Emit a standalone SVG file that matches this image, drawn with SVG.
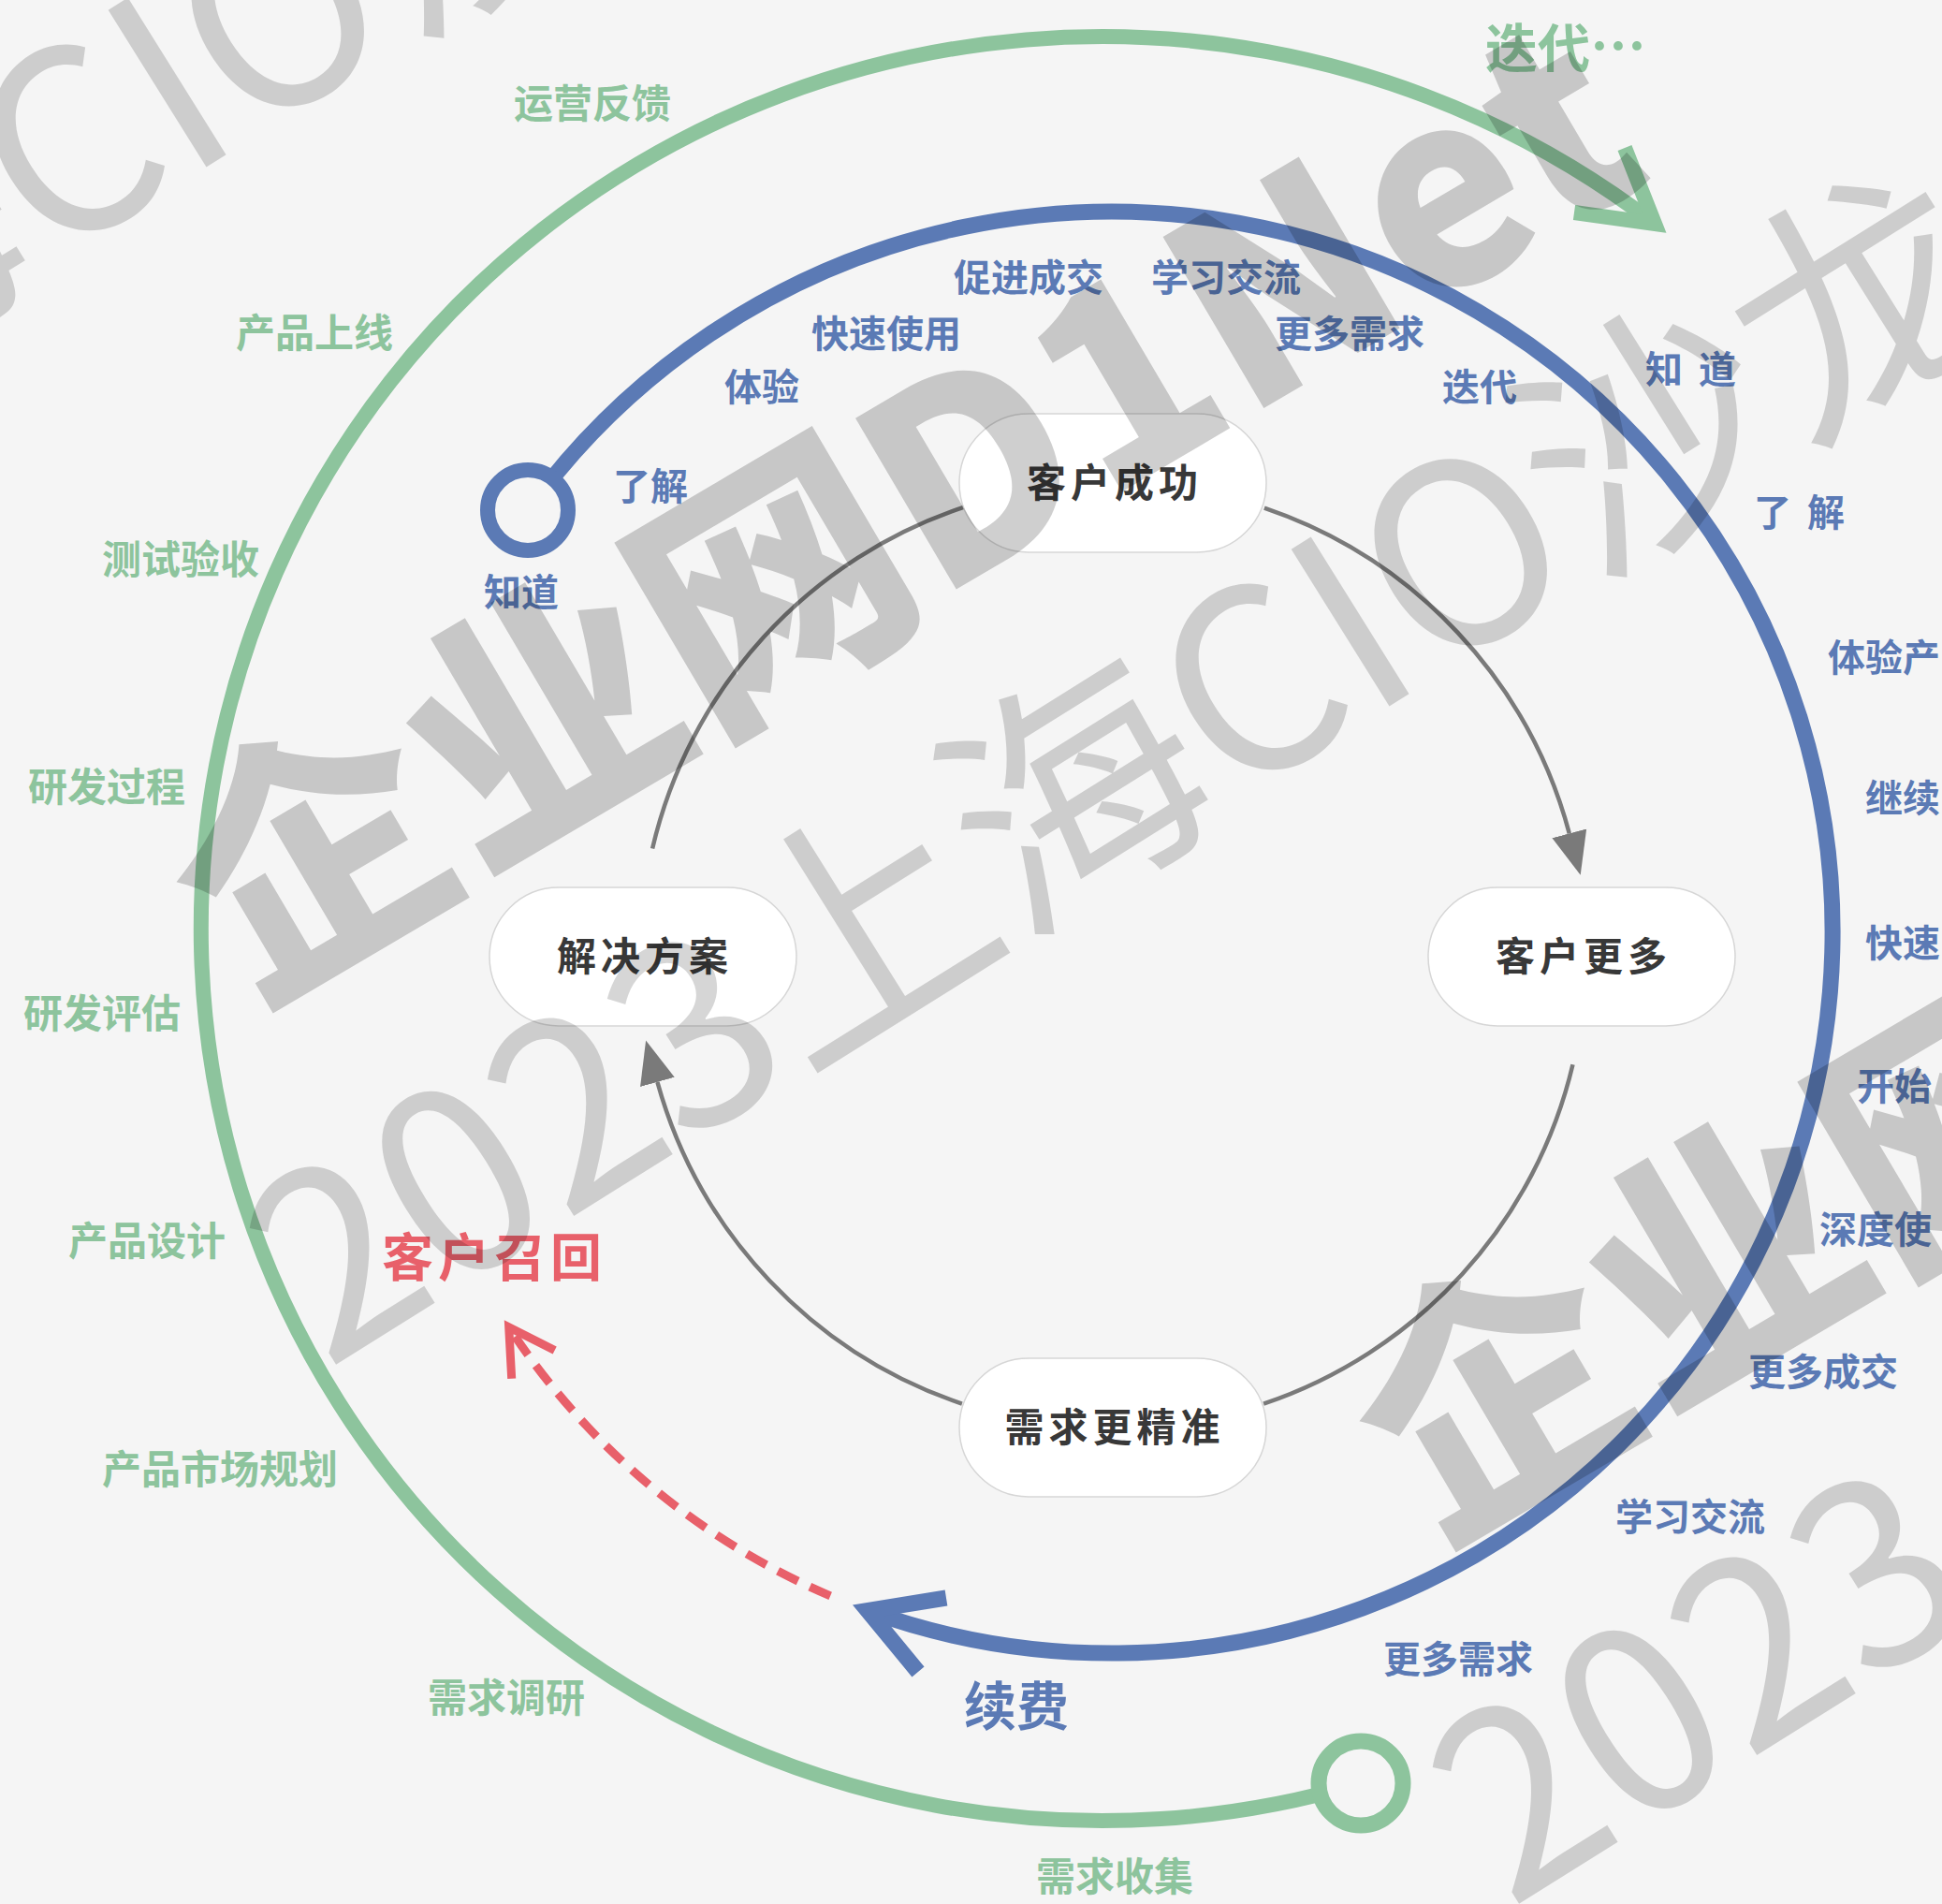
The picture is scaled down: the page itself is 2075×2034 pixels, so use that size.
<svg xmlns="http://www.w3.org/2000/svg" width="2075" height="2034" viewBox="0 0 2075 2034">
<defs>
<style>
text{font-family:"Noto Sans CJK SC","Noto Sans",sans-serif;font-weight:700}
.g{fill:#8dc49d;font-size:42px}
.b{fill:#5b7ab5;font-size:40px}
.n{fill:#383838;font-size:42px;letter-spacing:5px}
.pill{fill:#fff;stroke:#d6d6d6;stroke-width:1.5}
.arc{fill:none;stroke:#7a7a7a;stroke-width:4.5}
</style>
<marker id="ah" markerUnits="userSpaceOnUse" markerWidth="50" markerHeight="44" refX="0" refY="22" orient="auto" viewBox="0 0 50 44">
<path d="M0,3 L46,22 L0,41 z" fill="#7a7a7a"/>
</marker>
</defs>
<rect width="2075" height="2034" fill="#f5f5f5"/>

<g id="connectors" fill="none" stroke-linecap="butt" stroke-linejoin="miter">
<path d="M 1454 1905 A 963 953 0 1 1 1768 239" stroke="#8dc49d" stroke-width="16"/>
<path d="M 1736 158 L 1768 239 L 1682 227" stroke="#8dc49d" stroke-width="16"/>
<path d="M 564 545 A 770 770 0 1 1 927 1720.5" stroke="#5b7ab5" stroke-width="17"/>
<path d="M 981 1786 L 927 1720.5 L 1011 1707" stroke="#5b7ab5" stroke-width="17"/>
<path d="M 887.2 1704.8 A 770 770 0 0 1 543.7 1417.7" stroke="#e8606a" stroke-width="9" stroke-dasharray="24 14"/>
<path d="M 546.7 1472.7 L 543.7 1417.7 L 592.7 1442.5" stroke="#e8606a" stroke-width="9"/>
<path class="arc" d="M 1350.9 542.7 A 505 505 0 0 1 1676.8 890.3" marker-end="url(#ah)"/>
<path class="arc" d="M 1680.5 1137.2 A 505 505 0 0 1 1350.1 1499.6"/>
<path class="arc" d="M 1027.9 1499.6 A 505 505 0 0 1 702.4 1155.9" marker-end="url(#ah)"/>
<path class="arc" d="M 697.1 906.5 A 505 505 0 0 1 1030.4 541.6" stroke="#666"/>
<circle cx="564" cy="545" r="43" fill="#f5f5f5" stroke="#5b7ab5" stroke-width="16"/>
<circle cx="1454" cy="1905" r="45" fill="#f5f5f5" stroke="#8dc49d" stroke-width="17"/>
</g>

<g id="node-success"><rect class="pill" x="1025" y="442" width="328" height="148" rx="74"/><text class="n" x="1191" y="531" text-anchor="middle">客户成功</text></g>
<g id="node-more"><rect class="pill" x="1526" y="948" width="328" height="148" rx="74"/><text class="n" x="1692" y="1037" text-anchor="middle">客户更多</text></g>
<g id="node-solution"><rect class="pill" x="523" y="948" width="328" height="148" rx="74"/><text class="n" x="689" y="1037" text-anchor="middle">解决方案</text></g>
<g id="node-demand"><rect class="pill" x="1025" y="1451" width="328" height="148" rx="74"/><text class="n" x="1191" y="1540" text-anchor="middle">需求更精准</text></g>

<g id="labels-green" class="g" text-anchor="middle">
<text x="633" y="126">运营反馈</text>
<text x="336" y="371">产品上线</text>
<text x="193" y="613">测试验收</text>
<text x="114" y="856">研发过程</text>
<text x="109" y="1098">研发评估</text>
<text x="157" y="1341">产品设计</text>
<text x="235" y="1585">产品市场规划</text>
<text x="541" y="1829">需求调研</text>
<text x="1191" y="2020">需求收集</text>
<text x="1587" y="72" text-anchor="start" style="font-size:56px">迭代<tspan style="font-size:60px">…</tspan></text>
</g>

<g id="labels-blue" class="b" text-anchor="middle">
<text x="1099" y="311">促进成交</text>
<text x="1310" y="311">学习交流</text>
<text x="947" y="371">快速使用</text>
<text x="1442" y="371">更多需求</text>
<text x="814" y="428">体验</text>
<text x="1581" y="428">迭代</text>
<text x="695" y="534">了解</text>
<text x="557" y="647">知道</text>
<text x="1758" y="409" text-anchor="start" textLength="97" lengthAdjust="spacing">知 道</text>
<text x="1874" y="562" text-anchor="start" textLength="97" lengthAdjust="spacing">了 解</text>
<text x="1953" y="717" text-anchor="start">体验产</text>
<text x="1993" y="867" text-anchor="start">继续</text>
<text x="1993" y="1022" text-anchor="start">快速</text>
<text x="1984" y="1175" text-anchor="start">开始</text>
<text x="1944" y="1328" text-anchor="start">深度使</text>
<text x="1948" y="1480">更多成交</text>
<text x="1806" y="1635">学习交流</text>
<text x="1558" y="1787">更多需求</text>
<text x="1086" y="1843" style="font-size:56px">续费</text>
</g>

<g id="label-recall"><text x="528" y="1363" text-anchor="middle" style="fill:#e8606a;font-size:55px;letter-spacing:5px">客户召回</text></g>

<g id="watermark" fill="#000">
<g id="wm1">
<text x="264" y="1076" fill-opacity="0.19" style="font-size:285px;font-weight:900" transform="rotate(-30.5 264 1076)">企业网D1Net</text>
<text x="349" y="1464" fill-opacity="0.16" style="font-size:270px;font-weight:400" transform="rotate(-32 349 1464)">2023上海CIO沙龙</text>
</g>
<use href="#wm1" transform="translate(-1264 -576)"/>
<use href="#wm1" transform="translate(1264 576)"/>
</g>
</svg>
